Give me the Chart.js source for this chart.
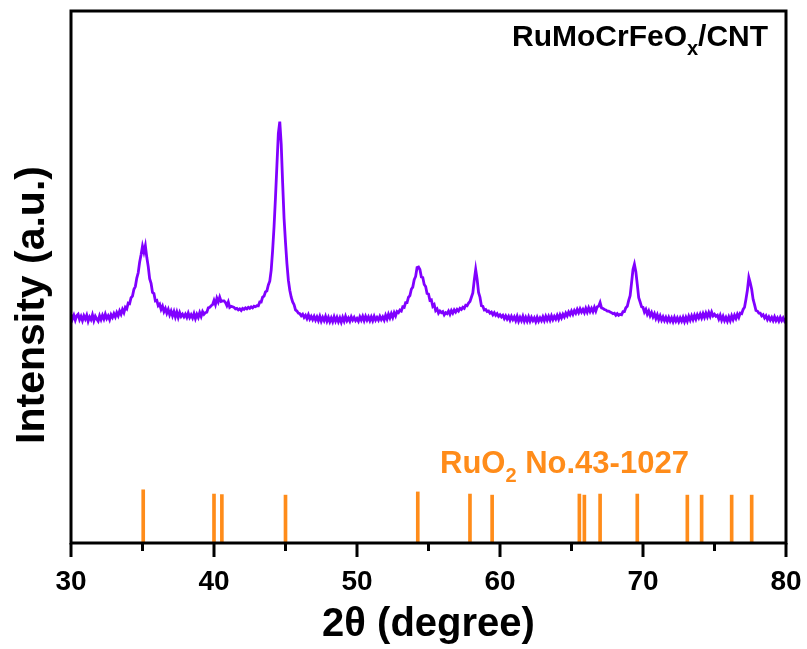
<!DOCTYPE html>
<html>
<head>
<meta charset="utf-8">
<script src="https://cdn.jsdelivr.net/npm/chart.js@4.4.0/dist/chart.umd.min.js"></script>
<style>
  html, body { margin: 0; padding: 0; background: #ffffff; }
  #wrap { position: relative; width: 807px; height: 649px; }
</style>
</head>
<body>
<div id="wrap"><canvas id="c" width="807" height="649"></canvas></div>
<script>
// ---------- DATA ----------
const thetaStart = 30.0;   // first 2θ value of the scan
const thetaStep = 0.1;     // scan step (degree)
// measured intensity (a.u.), one value per step from 30.0 to 80.0
const intensity = [
  42.9, 42.1, 42.8, 41.9, 42.7, 43.0, 42.0, 42.6, 41.8, 42.7,
  42.1, 42.8, 41.7, 42.5, 42.0, 42.9, 41.8, 42.6, 42.1, 41.7,
  42.7, 42.0, 42.8, 42.1, 43.0, 42.2, 42.7, 42.0, 42.9, 42.4,
  43.1, 42.5, 43.3, 42.7, 43.6, 43.0, 43.9, 43.3, 44.3, 44.0,
  45.1, 45.0, 46.1, 46.4, 47.7, 48.2, 49.8, 50.8, 52.8, 54.2,
  55.8, 54.7, 55.9, 53.7, 52.0, 49.7, 48.8, 47.1, 46.9, 45.5,
  45.6, 44.6, 44.9, 43.9, 44.5, 43.5, 44.1, 43.2, 43.9, 42.9,
  43.6, 42.7, 43.5, 42.5, 43.4, 42.4, 43.3, 42.6, 43.0, 42.5,
  43.0, 42.4, 43.2, 42.4, 42.9, 42.3, 43.1, 42.2, 43.0, 42.4,
  43.3, 42.6, 43.5, 43.0, 43.3, 43.4, 44.2, 44.3, 44.6, 44.8,
  45.6, 44.8, 46.0, 45.3, 46.2, 45.4, 45.5, 45.5, 45.2, 44.6,
  45.3, 44.3, 44.5, 44.4, 44.3, 44.0, 44.1, 43.8, 44.0, 43.7,
  44.1, 43.9, 44.2, 44.0, 44.3, 44.1, 44.4, 44.2, 44.5, 44.4,
  44.6, 44.6, 45.3, 45.3, 46.2, 46.4, 47.2, 47.4, 48.5, 49.2,
  51.3, 55.0, 59.5, 65.0, 71.0, 77.0, 79.2, 75.0, 67.7, 61.0,
  56.5, 52.5, 49.4, 47.5, 46.2, 45.3, 44.8, 43.8, 43.6, 43.2,
  43.1, 42.7, 43.0, 42.4, 42.8, 42.2, 42.9, 42.1, 42.6, 42.0,
  42.6, 41.9, 42.5, 41.8, 42.6, 41.7, 42.4, 41.8, 42.6, 41.7,
  42.4, 41.6, 42.3, 41.6, 42.5, 41.7, 42.4, 41.6, 42.3, 41.5,
  42.4, 41.7, 42.6, 41.8, 42.3, 41.7, 42.5, 41.9, 42.4, 41.8,
  42.2, 41.7, 42.5, 41.9, 42.6, 41.8, 42.6, 41.9, 42.5, 41.8,
  42.5, 41.8, 42.6, 41.9, 42.4, 41.9, 42.6, 42.0, 42.5, 41.9,
  42.8, 42.1, 43.0, 42.3, 43.1, 42.4, 43.3, 42.7, 43.5, 43.3,
  43.8, 43.6, 44.4, 44.3, 45.2, 45.2, 46.2, 46.5, 47.7, 48.1,
  49.5, 50.1, 51.8, 51.9, 51.4, 50.0, 49.9, 48.6, 48.2, 46.9,
  46.8, 45.6, 45.7, 44.5, 44.8, 43.7, 44.0, 43.2, 43.6, 43.3,
  43.5, 42.9, 43.3, 43.1, 43.6, 43.0, 43.7, 43.2, 43.8, 43.4,
  43.9, 43.6, 44.1, 43.9, 44.3, 44.1, 44.7, 44.6, 45.1, 45.4,
  46.2, 47.0, 49.4, 51.4, 49.6, 47.1, 46.2, 44.6, 44.5, 43.8,
  43.9, 43.5, 43.6, 43.2, 43.4, 42.9, 43.3, 42.8, 43.1, 42.6,
  42.9, 42.5, 42.8, 42.2, 42.7, 42.1, 42.6, 41.9, 42.6, 42.0,
  42.5, 41.8, 42.6, 41.7, 42.4, 41.8, 42.6, 41.7, 42.4, 41.7,
  42.5, 41.7, 42.4, 41.8, 42.3, 41.6, 42.4, 41.7, 42.3, 41.8,
  42.5, 41.8, 42.6, 41.9, 42.6, 41.9, 42.7, 42.0, 42.6, 42.1,
  42.8, 42.1, 42.9, 42.3, 43.0, 42.5, 43.2, 42.7, 43.4, 42.9,
  43.6, 43.0, 43.7, 43.2, 43.9, 43.3, 44.0, 43.4, 43.9, 43.3,
  44.1, 43.4, 44.2, 43.5, 44.1, 43.5, 44.3, 43.6, 44.4, 44.5,
  45.2, 44.2, 44.1, 43.9, 43.8, 43.6, 43.6, 43.4, 43.3, 43.1,
  43.2, 42.8, 43.1, 42.8, 43.0, 42.9, 43.5, 43.5, 44.2, 44.5,
  45.6, 46.5, 48.9, 51.4, 52.4, 51.0, 48.6, 46.1, 45.3, 44.4,
  44.3, 43.4, 43.9, 43.0, 43.6, 42.7, 43.3, 42.5, 43.1, 42.2,
  42.9, 42.0, 42.7, 41.9, 42.5, 41.8, 42.4, 41.7, 42.4, 41.7,
  42.3, 41.6, 42.4, 41.7, 42.3, 41.6, 42.3, 41.7, 42.4, 41.6,
  42.4, 41.7, 42.6, 41.9, 42.7, 42.0, 42.8, 42.1, 42.9, 42.3,
  43.0, 42.3, 43.1, 42.4, 43.2, 42.5, 43.3, 42.6, 43.4, 42.7,
  43.0, 42.6, 42.8, 42.1, 42.8, 41.9, 42.6, 41.8, 42.4, 41.7,
  42.5, 41.8, 42.7, 42.0, 42.8, 42.2, 43.0, 42.4, 43.2, 43.1,
  43.9, 44.3, 45.8, 47.5, 49.9, 48.9, 47.7, 45.8, 44.8, 43.7,
  43.6, 43.2, 43.2, 42.7, 42.9, 42.3, 42.7, 42.0, 42.5, 41.9,
  42.4, 41.8, 42.5, 41.8, 42.3, 41.7, 42.4, 41.8, 42.3, 41.7,
  42.1
];
// RuO2 reference pattern (JCPDS No.43-1027): positions and stick heights
const refPositions = [35.05, 40.0, 40.55, 45.0, 54.25, 57.9, 59.45, 65.55, 65.9, 67.0, 69.6, 73.1, 74.1, 76.2, 77.6];
const refHeights   = [10.0, 9.2, 9.1, 9.0, 9.6, 9.2, 9.0, 9.2, 9.0, 9.2, 9.2, 9.0, 9.0, 9.0, 9.0];
// axis ticks
const xMajorTicks = [30, 40, 50, 60, 70, 80];
const xMinorTicks = [35, 45, 55, 65, 75];

// ---------- BUILD ----------
const xrdPoints = intensity.map((v, i) => ({ x: +(thetaStart + i * thetaStep).toFixed(1), y: v }));
const refPoints = refPositions.map((p, i) => ({ x: p, y: refHeights[i] }));

const FONT = '"Liberation Sans", Arial, sans-serif';
const PURPLE = '#8000ff';
const ORANGE = '#ff8c1a';

const decor = {
  id: 'decor',
  afterDatasetsDraw(chart) {
    const { ctx, chartArea: a, scales } = chart;
    const xs = scales.x;
    ctx.save();
    // frame
    ctx.strokeStyle = '#000';
    ctx.lineWidth = 3;
    ctx.strokeRect(a.left, a.top, a.right - a.left, a.bottom - a.top);
    // ticks (outside, below the axis)
    const drawTick = (t, len) => {
      const px = xs.getPixelForValue(t);
      ctx.beginPath();
      ctx.moveTo(px, a.bottom);
      ctx.lineTo(px, a.bottom + len);
      ctx.stroke();
    };
    xMajorTicks.forEach(t => drawTick(t, 14));
    xMinorTicks.forEach(t => drawTick(t, 8));
    // sample label
    ctx.fillStyle = '#000';
    ctx.textBaseline = 'alphabetic';
    ctx.textAlign = 'left';
    let x0 = 512, y0 = 46;
    ctx.font = 'bold 30px ' + FONT;
    ctx.fillText('RuMoCrFeO', x0, y0);
    x0 += ctx.measureText('RuMoCrFeO').width;
    ctx.font = 'bold 20px ' + FONT;
    ctx.fillText('x', x0, y0 + 9);
    x0 += ctx.measureText('x').width;
    ctx.font = 'bold 30px ' + FONT;
    ctx.fillText('/CNT', x0, y0);
    // reference label
    ctx.fillStyle = ORANGE;
    x0 = 440; y0 = 473;
    ctx.font = 'bold 31px ' + FONT;
    ctx.fillText('RuO', x0, y0);
    x0 += ctx.measureText('RuO').width;
    ctx.font = 'bold 20px ' + FONT;
    ctx.fillText('2', x0, y0 + 9);
    x0 += ctx.measureText('2').width;
    ctx.font = 'bold 31px ' + FONT;
    ctx.fillText(' No.43-1027', x0, y0);
    // y-axis title
    ctx.fillStyle = '#000';
    ctx.translate(44, 305);
    ctx.rotate(-Math.PI / 2);
    ctx.textAlign = 'center';
    ctx.textBaseline = 'alphabetic';
    ctx.font = 'bold 41px ' + FONT;
    ctx.fillText('Intensity (a.u.)', 0, 0);
    ctx.restore();
  }
};

new Chart(document.getElementById('c'), {
  data: {
    datasets: [
      {
        type: 'line',
        data: xrdPoints,
        borderColor: PURPLE,
        borderWidth: 2.8,
        pointRadius: 0,
        tension: 0,
        fill: false
      },
      {
        type: 'bar',
        data: refPoints,
        backgroundColor: ORANGE,
        borderWidth: 0,
        barThickness: 3
      }
    ]
  },
  options: {
    responsive: false,
    animation: false,
    events: [],
    layout: { padding: { left: 71, top: 11, right: 21, bottom: 0 } },
    plugins: { legend: { display: false }, tooltip: { enabled: false } },
    scales: {
      x: {
        type: 'linear',
        min: 30, max: 80,
        offset: false,
        afterBuildTicks(scale) { scale.ticks = xMajorTicks.map(v => ({ value: v })); },
        afterFit(scale) {
          scale.height = 106;
          scale.paddingLeft = 0;
          scale.paddingRight = 0;
        },
        grid: { display: false, drawTicks: false },
        border: { display: false },
        ticks: {
          color: '#000',
          font: { family: FONT, size: 28, weight: 'bold' },
          padding: 22,
          maxRotation: 0,
          autoSkip: false
        },
        title: {
          display: true,
          text: '2θ (degree)',
          color: '#000',
          font: { family: FONT, size: 40, weight: 'bold' },
          padding: { top: 0, bottom: 0 }
        }
      },
      y: {
        type: 'linear',
        min: 0, max: 100,
        display: false
      }
    }
  },
  plugins: [decor]
});
</script>
</body>
</html>
